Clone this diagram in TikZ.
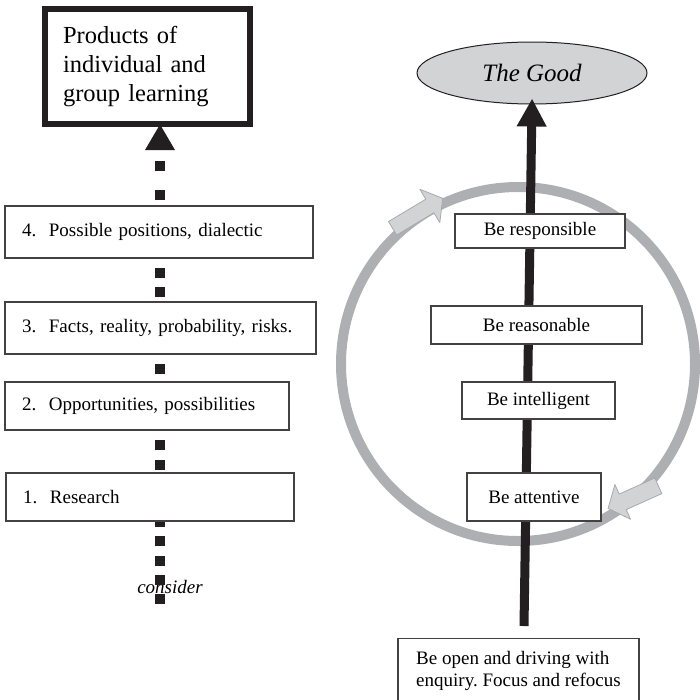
\documentclass[tikz,border=0pt]{standalone}
\usepackage{fontspec}
\setmainfont{Liberation Serif}
\usetikzlibrary{arrows.meta,shapes.geometric,backgrounds}

\definecolor{ink}{HTML}{231F20}
\definecolor{ringgray}{HTML}{ADAFB2}
\definecolor{pale}{HTML}{D1D3D4}
\definecolor{edge}{HTML}{A7A9AC}

\begin{document}
\frenchspacing
\begin{tikzpicture}[x=1pt,y=-1pt,
    every node/.style={font=\fontsize{19}{22}\selectfont},
    stage/.style={draw=ink!85, line width=1.3pt, fill=white,
                  inner xsep=17pt, align=left},
    virtue/.style={draw=ink!85, line width=1.3pt, fill=white, inner sep=0pt},
    dots/.style={ink, line width=10pt, dash pattern=on 10pt off 9.2pt},
    ring/.style={ringgray, line width=10pt},
    turn/.style={fill=pale, draw=edge, line width=0.8pt, line join=round}]
    \useasboundingbox (0,0) rectangle (700,699);

    % left column: the four steps
    \node[draw=ink, line width=6pt, minimum width=205pt, minimum height=115pt,
          text width=169pt, inner xsep=18pt, align=left,
          font=\fontsize{24.5}{29}\selectfont] (prod) at (147.5,66.5)
          {Products of\\ individual and\\ group learning};
    \node[stage, text width=274pt, minimum height=52pt] (b4) at (159,232)
          {4.~~Possible positions, dialectic};
    \node[stage, text width=277pt, minimum height=52pt] (b3) at (160.5,328)
          {3.~~Facts, reality, probability, risks.};
    \node[stage, text width=250pt, minimum height=48pt] (b2) at (147,406)
          {2.~~Opportunities, possibilities};
    \node[stage, text width=254pt, minimum height=48pt] (b1) at (150,497)
          {1.~~Research};
    \coordinate (axis) at (160,0);
    \coordinate (tail) at (160,604);
    \begin{scope}[on background layer]
        \node[font=\fontsize{19}{22}\selectfont\itshape] (cons) at (170,587) {consider};
        \draw[dots] (tail) -- (b4.north -| axis);
        \draw[dots, dash pattern=on 10pt off 19pt, dash phase=24pt, shorten >=-3pt,
              -{Triangle[length=26pt,width=28pt]}] (b4.north -| axis) -- (prod.south -| axis);
    \end{scope}

    % right column: the cycle
    \node[ellipse, draw=ink, line width=1pt, fill=pale, minimum width=230pt,
          minimum height=62pt, font=\fontsize{25}{30}\selectfont\itshape] (good) at (532,73)
          {The Good};
    \draw[ring] (518,364) circle[radius=177pt];
    \filldraw[turn] (388.5,221.5) -- (425.8,199.2) -- (419.9,189.3) -- (442.7,198.3)
        -- (439.8,222.6) -- (433.9,212.8) -- (396.6,235.1) -- cycle;
    \filldraw[turn] (654.8,478.0) -- (619.2,494.1) -- (614.9,484.5) -- (608.1,508.4)
        -- (630.5,519.2) -- (626.2,509.6) -- (661.8,493.6) -- cycle;
    \coordinate (base) at (524,626);
    \draw[ink, line width=9pt, shorten >=-6pt,
          -{Triangle[length=28pt,width=28pt]}] (base) -- (good.south);

    \node[virtue, minimum width=170pt, minimum height=34pt] (resp) at (540,231) {Be responsible};
    \node[virtue, minimum width=211pt, minimum height=38pt] (reas) at (536.5,325) {Be reasonable};
    \node[virtue, minimum width=153pt, minimum height=37pt] (intel) at (538.5,400.5) {Be intelligent};
    \node[virtue, minimum width=134pt, minimum height=48pt] (att) at (534,497) {Be attentive};
    \node[stage, anchor=north, minimum width=241pt, inner ysep=13pt] (open) at (518.5,638)
          {Be open and driving with\\ enquiry. Focus and refocus};
\end{tikzpicture}
\end{document}
